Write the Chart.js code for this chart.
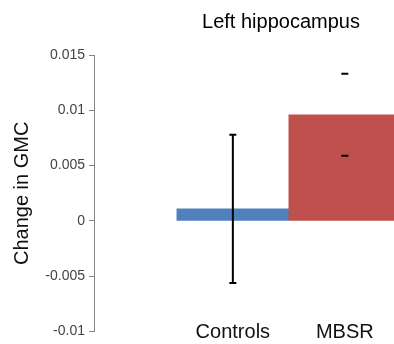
<!DOCTYPE html>
<html>
<head>
<meta charset="utf-8">
<title>Left hippocampus</title>
<script src="https://cdn.jsdelivr.net/npm/chart.js@4.4.1/dist/chart.umd.min.js"></script>
<style>
  html, body { margin: 0; padding: 0; background: #fff; overflow: hidden; }
  #wrap { width: 394px; height: 344px; overflow: hidden; }
</style>
</head>
<body>
<div id="wrap">
  <canvas id="myChart" width="468" height="344"></canvas>
</div>
<script>
// values
var groups = ['Controls', 'MBSR'];
var changeGMC = [0.0011, 0.0096];
var errGMC = [0.0067, 0.0037];
var barColors = ['#4F81BD', '#C0504D'];
var yTicks = [-0.01, -0.005, 0, 0.005, 0.01, 0.015];

var font = 'Liberation Sans, Arial, sans-serif';

var points = groups.map(function (g, i) {
  return { x: i + 1, y: changeGMC[i] };
});

// error bars: caps for every bar, stem only where the reference shows one
var errorBars = {
  id: 'errorBars',
  afterDatasetsDraw: function (chart, args, opts) {
    var ctx = chart.ctx;
    var xs = chart.scales.x, ys = chart.scales.y;
    ctx.save();
    ctx.strokeStyle = '#000';
    ctx.lineWidth = 2;
    for (var i = 0; i < changeGMC.length; i++) {
      var x = xs.getPixelForValue(i + 1);
      var top = ys.getPixelForValue(changeGMC[i] + errGMC[i]);
      var bot = ys.getPixelForValue(changeGMC[i] - errGMC[i]);
      ctx.beginPath();
      if (opts.stem[i]) {
        ctx.moveTo(x, top);
        ctx.lineTo(x, bot);
      }
      ctx.moveTo(x - 3.5, top); ctx.lineTo(x + 3.5, top);
      ctx.moveTo(x - 3.5, bot); ctx.lineTo(x + 3.5, bot);
      ctx.stroke();
    }
    ctx.restore();
  }
};

var ctx = document.getElementById('myChart').getContext('2d');
var chart = new Chart(ctx, {
  type: 'bar',
  data: {
    datasets: [{
      data: points,
      backgroundColor: barColors,
      borderWidth: 0,
      barPercentage: 1,
      categoryPercentage: 1
    }]
  },
  plugins: [errorBars],
  options: {
    responsive: false,
    animation: false,
    layout: { padding: { left: 6, right: 0, top: 0, bottom: 0 } },
    plugins: {
      legend: { display: false },
      tooltip: { enabled: false },
      title: {
        display: true,
        text: 'Left hippocampus',
        fullSize: false,
        color: '#000',
        font: { family: font, size: 20, weight: 'normal' },
        padding: { top: 10, bottom: 21 }
      },
      errorBars: { stem: [true, false] }
    },
    scales: {
      x: {
        type: 'linear',
        min: -0.24,
        max: 3.1,
        offset: false,
        grid: { display: false, drawTicks: false },
        border: { display: false },
        afterBuildTicks: function (axis) {
          axis.ticks = groups.map(function (g, i) { return { value: i + 1 }; });
        },
        // labels sit level with the bottom of the value axis, as in the original
        afterFit: function (scale) { scale.height = 12; },
        ticks: {
          mirror: true,
          padding: -12.4,
          maxRotation: 0,
          autoSkip: false,
          color: '#111',
          font: { family: font, size: 20 },
          callback: function (v) { return groups[v - 1]; }
        }
      },
      y: {
        min: yTicks[0],
        max: yTicks[yTicks.length - 1],
        afterBuildTicks: function (axis) {
          axis.ticks = yTicks.map(function (v) { return { value: v }; });
        },
        afterFit: function (scale) { scale.width = 88; },
        grid: { drawOnChartArea: false, drawTicks: true, tickLength: 5, color: '#868686' },
        border: { display: true, color: '#868686', width: 1 },
        ticks: {
          padding: 4,
          color: '#444',
          font: { family: font, size: 14 },
          callback: function (v) { return String(Number(v.toFixed(3))); }
        },
        title: {
          display: true,
          text: 'Change in GMC',
          color: '#111',
          font: { family: font, size: 20 },
          padding: { top: 4, bottom: 0 }
        }
      }
    }
  }
});
</script>
</body>
</html>
